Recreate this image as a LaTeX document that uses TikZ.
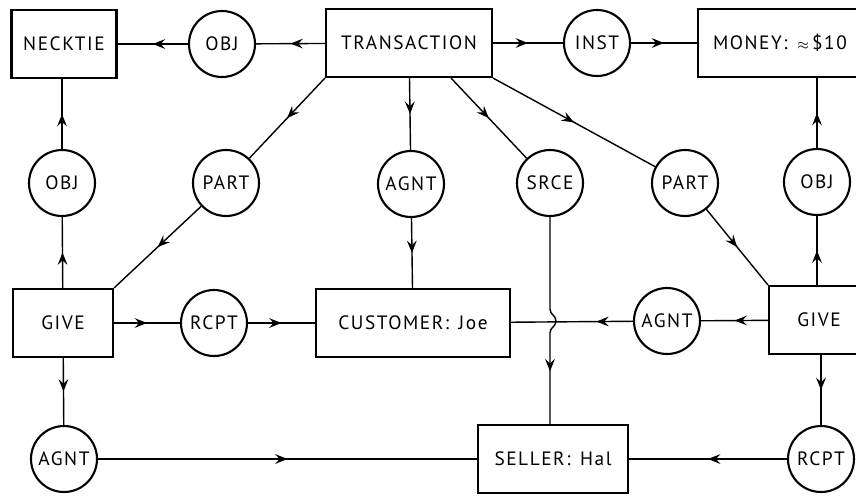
\documentclass[tikz,border=0pt]{standalone}
\usepackage{fontspec}
\setmainfont{PT Sans}[LetterSpace=8]
\usepackage{tikz}
\usetikzlibrary{arrows.meta, decorations.markings, calc}

\begin{document}
\begin{tikzpicture}[x=0.02cm, y=-0.02cm,
        concept/.style={draw, line width=1.2pt, minimum height=1.36cm, inner sep=0pt, font=\fontsize{11}{13}\selectfont},
        relation/.style={draw, circle, line width=1.2pt, minimum size=1.32cm, inner sep=0pt, font=\fontsize{11}{13}\selectfont},
        link/.style={line width=0.8pt, postaction={decorate},
            decoration={markings, mark=at position #1 with {\arrow{Stealth[length=7pt, width=5.5pt, inset=2.5pt]}}}},
        link/.default=0.5]
        \useasboundingbox (0,0) rectangle (856,495);
        \clip (0,0) rectangle (856,495);

        \node (necktie) [concept, minimum width=2.1cm] at (64, 44) {NECKTIE};
        \node (transaction) [concept, minimum width=3.32cm] at (409, 43) {TRANSACTION};
        \node (money) [concept, anchor=west, inner xsep=0.3cm, text width=3.2cm, align=left] at (697, 43) {MONEY:\enspace{\footnotesize$\approx$}\,\$10};
        \node (giveL) [concept, minimum width=2.0cm] at (63, 323) {GIVE};
        \node (customer) [concept, minimum width=3.88cm] at (413, 323) {CUSTOMER:\enspace Joe};
        \node (giveR) [concept, minimum width=2.0cm] at (819, 320) {GIVE};
        \node (seller) [concept, minimum width=3.0cm] at (553, 459) {SELLER:\enspace Hal};

        \node (objT) [relation] at (222, 44) {OBJ};
        \node (inst) [relation] at (597, 43) {INST};
        \node (objL) [relation] at (62, 183) {OBJ};
        \node (partL) [relation] at (226, 183) {PART};
        \node (agntM) [relation] at (411, 184) {AGNT};
        \node (srce) [relation] at (550, 183) {SRCE};
        \node (partR) [relation] at (685, 183) {PART};
        \node (objR) [relation] at (817, 182) {OBJ};
        \node (rcptL) [relation] at (214, 323) {RCPT};
        \node (agntR) [relation] at (667, 321) {AGNT};
        \node (agntBL) [relation] at (64, 459) {AGNT};
        \node (rcptR) [relation] at (821, 459) {RCPT};

        \coordinate (jmpA) at (550, 309);
        \coordinate (jmpC) at (556, 321);
        \coordinate (jmpB) at (550, 333);

        \draw[link] (transaction) -- (objT);
        \draw[link] (objT) -- (necktie);
        \draw[link] (transaction) -- (inst);
        \draw[link] (inst) -- (money);
        \draw[link] (transaction.south west) -- (partL);
        \draw[link] (partL) -- (giveL.north east);
        \draw[link] (transaction) -- (agntM);
        \draw[link] (agntM) -- (customer);
        \draw[link] ($(transaction.south)!0.5!(transaction.south east)$) -- (srce);
        \draw[link=0.75] (srce) -- (jmpA) .. controls +(0,6) and +(0,-6) .. (jmpC) .. controls +(0,6) and +(0,-6) .. (jmpB) -- (jmpB |- seller.north);
        \draw[link] (transaction.south east) -- (partR);
        \draw[link] (partR) -- (giveR.north west);
        \draw[link] (giveL) -- (objL);
        \draw[link] (objL) -- (objL |- necktie.south);
        \draw[link] (giveR.north -| objR) -- (objR);
        \draw[link] (objR) -- (objR |- money.south);
        \draw[link] (giveL) -- (rcptL);
        \draw[link] (rcptL) -- (customer);
        \draw[link] (giveL) -- (agntBL);
        \draw[link] (agntBL) -- (seller);
        \draw[link] (giveR) -- (agntR);
        \draw[link=0.3] (agntR) -- (customer);
        \draw[link] (giveR.south -| rcptR) -- (rcptR);
        \draw[link] (rcptR) -- (seller);
\end{tikzpicture}
\end{document}
